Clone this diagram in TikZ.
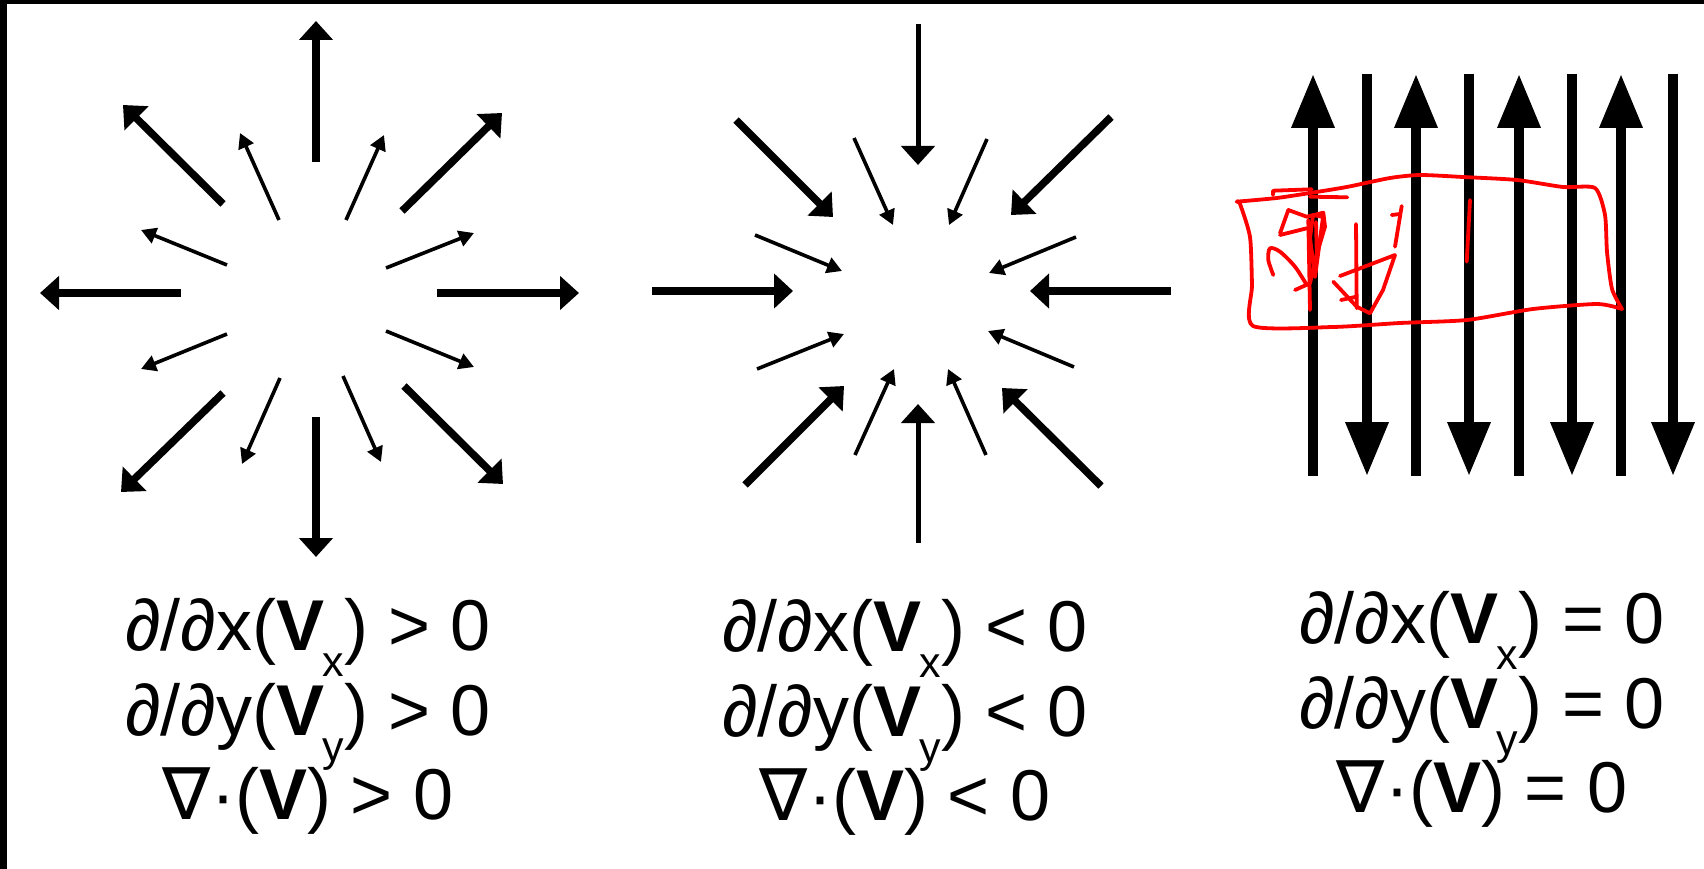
\documentclass[tikz,border=0pt]{standalone}
\usepackage{fontspec}
\setmainfont{Liberation Sans}
\newfontfamily\nablafont{DejaVu Sans}
\usetikzlibrary{arrows.meta}
\newcommand\vsub[1]{\kern-2pt\raisebox{-26pt}{\fontsize{43}{43}\selectfont #1}\kern1pt}
\newcommand\nab{{\nablafont ∇}}
\tikzset{
  bigarr/.style={line width=7.5pt,-{Triangle[length=19pt,width=33pt]}},
  thinarr/.style={line width=3.6pt,-{Triangle[length=15pt,width=16pt]}},
  vinarr/.style={line width=5pt,-{Triangle[length=19pt,width=33pt]}},
  hinarr/.style={line width=8.5pt,-{Triangle[length=19pt,width=34pt]}},
  flowarr/.style={line width=10pt,-{Triangle[length=54pt,width=41pt]}},
  lbl/.style={anchor=base,inner sep=0pt,font=\fontsize{72}{84}\selectfont},
  redmark/.style={red,line width=3.8pt,line cap=round,line join=round},
}
\begin{document}
\begin{tikzpicture}[x=1pt,y=-1pt]
\useasboundingbox (0,0) rectangle (1704,869);
\fill[white] (0,0) rectangle (1704,869);
\fill[black] (0,0) rectangle (1704,4);
\fill[black] (0,0) rectangle (7,869);

% ---------- left panel: source ----------
\draw[bigarr] (316,162) -- (316,21);
\draw[bigarr] (316,417) -- (316,557);
\draw[bigarr] (181,293) -- (40,293);
\draw[bigarr] (437,293) -- (579,293);
\draw[bigarr] (223,204) -- (123,105);
\draw[bigarr] (402,211) -- (502,113);
\draw[bigarr] (223,393) -- (121,492);
\draw[bigarr] (404,386) -- (503,484);
\draw[thinarr] (279,220) -- (240,133);
\draw[thinarr] (346,220) -- (384,135);
\draw[thinarr] (227,265) -- (141,230);
\draw[thinarr] (386,268) -- (474,233);
\draw[thinarr] (227,334) -- (141,369);
\draw[thinarr] (386,331) -- (474,367);
\draw[thinarr] (280,378) -- (242,464);
\draw[thinarr] (343,376) -- (381,462);

% ---------- middle panel: sink ----------
\draw[vinarr] (918,24) -- (918,165);
\draw[vinarr] (918,543) -- (918,404);
\draw[hinarr] (652,291) -- (793,291);
\draw[hinarr] (1171,291) -- (1030,291);
\draw[bigarr] (736,120) -- (833,217);
\draw[bigarr] (1111,117) -- (1011,215);
\draw[bigarr] (745,485) -- (844,386);
\draw[bigarr] (1101,486) -- (1002,388);
\draw[thinarr] (854,138) -- (893,225);
\draw[thinarr] (987,139) -- (949,225);
\draw[thinarr] (755,235) -- (842,271);
\draw[thinarr] (1076,237) -- (989,273);
\draw[thinarr] (757,369) -- (844,334);
\draw[thinarr] (1074,367) -- (988,331);
\draw[thinarr] (855,455) -- (894,369);
\draw[thinarr] (986,455) -- (948,369);

% ---------- right panel: parallel flow ----------
\foreach \x in {1313,1416,1519,1621} \draw[flowarr] (\x,476) -- (\x,74);
\foreach \x in {1367,1469,1572,1673} \draw[flowarr] (\x,74) -- (\x,476);

% ---------- red hand annotation ----------
\draw[redmark] plot[smooth,tension=0.4] coordinates {(1236.7,201.7) (1276.7,198) (1310,193) (1346.7,187) (1390,178) (1420,175) (1463,177) (1517,180) (1563,187) (1595,188) (1605,215) (1607,252) (1612,289) (1622,309)};
\draw[redmark] plot[smooth,tension=0.4] coordinates {(1622,309) (1597,304) (1533,309) (1467,320) (1400,323) (1333,327) (1253,326) (1252,285) (1250,237) (1240,204) (1236.7,201.7)};
\draw[redmark] (1273,195) -- (1273,190.7) -- (1311.7,189.3);
\draw[redmark] (1310,196.7) -- (1347.3,197.3);
\draw[redmark] (1308.3,220) -- (1310,310);
\draw[redmark] (1280,233.3) -- (1288.3,210) -- (1306.7,216.7) -- (1323.3,212.7) -- (1325,226.7) -- (1315,260) -- (1310,283.3) -- (1295,290);
\draw[redmark] (1313,215) -- (1323,217) -- (1315,277) -- (1310,238) -- cycle;
\draw[redmark] (1316,222) -- (1317,262);
\draw[redmark] plot[smooth,tension=0.5] coordinates {(1273.3,275) (1268.3,260) (1270,248.3) (1280,251.7) (1295,266.7) (1306.7,285)};
\draw[redmark] (1280,235) -- (1306.7,228.3);
\draw[redmark] (1356,224) -- (1356.7,308.3);
\draw[redmark] (1340,276) -- (1395,255) -- (1383,290) -- (1370,313.3) -- (1356.7,306.7) -- (1333.3,281.7);
\draw[redmark] (1341,300) -- (1355,297);
\draw[redmark] (1401.7,206) -- (1395,246.7);
\draw[redmark] (1391.7,215) -- (1400,214);
\draw[redmark] (1470,200) -- (1466.7,261.7);

% ---------- labels ----------
\node[lbl] (a1) at (308,650) {∂/∂x(\textbf{V}\vsub{x}) > 0};
\node[lbl] (a2) at (308,735) {∂/∂y(\textbf{V}\vsub{y}) > 0};
\node[lbl] (a3) at (308,819) {\nab·(\textbf{V}) > 0};
\node[lbl] (b1) at (905,651) {∂/∂x(\textbf{V}\vsub{x}) < 0};
\node[lbl] (b2) at (905,736) {∂/∂y(\textbf{V}\vsub{y}) < 0};
\node[lbl] (b3) at (905,820) {\nab·(\textbf{V}) < 0};
\node[lbl] (c1) at (1482,643) {∂/∂x(\textbf{V}\vsub{x}) = 0};
\node[lbl] (c2) at (1482,728) {∂/∂y(\textbf{V}\vsub{y}) = 0};
\node[lbl] (c3) at (1482,812) {\nab·(\textbf{V}) = 0};
\end{tikzpicture}
\end{document}
